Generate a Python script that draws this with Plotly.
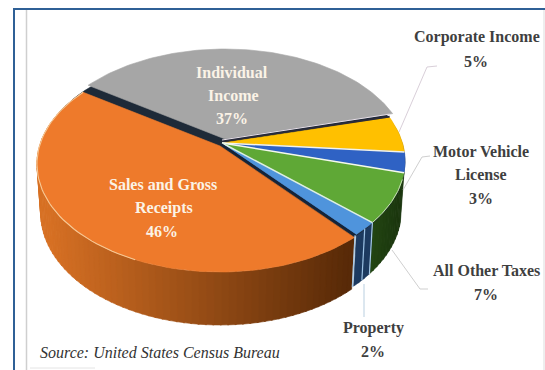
import math
import plotly.graph_objects as go

# ---- data (slice sizes as drawn; they round to the printed labels) ----
categories = ["Individual Income", "Corporate Income", "Motor Vehicle License",
              "All Other Taxes", "Property", "Sales and Gross Receipts"]
values = [36.5, 5.4, 3.0, 7.4, 2.0, 45.7]
top_colors = ["#a6a6a6", "#ffc000", "#2f62c4", "#5fa836", "#4f94dc", "#ee7a2b"]

# ---- projection of the tilted disc ----
CX, CY, A, B, K = 222.0, 143.0, 180.5, 105.0, 0.1667
START = 146.0
OFFSET = [(3, -4), (0, 0), (0, 0), (0, 0), (0, 0), (-2, 3)]


def top_pt(deg, off=(0, 0), r=1.0):
    t = math.radians(deg)
    u, v = r * math.cos(t), r * math.sin(t)
    w = 1 + K * v
    return CX + A * u / w + off[0], CY - B * v / w + off[1]


def low_pt(deg, off=(0, 0)):
    x, y = top_pt(deg, off)
    v = math.sin(math.radians(deg))
    return CX + (x - CX) * 0.98, y + 48 - 5 * v


def mix(c1, c2, f):
    f = max(0, min(1, f))
    return "rgb(%d,%d,%d)" % tuple(c1[i] + (c2[i] - c1[i]) * f for i in range(3))


def poly(xs, ys, fill, line=None, width=0):
    return go.Scatter(x=xs + xs[:1], y=ys + ys[:1], mode="lines", fill="toself",
                      fillcolor=fill, hoverinfo="skip", showlegend=False,
                      line=dict(color=line or fill, width=width if line else 0.6))


def seg(p, q, color, width):
    return go.Scatter(x=[p[0], q[0]], y=[p[1], q[1]], mode="lines", hoverinfo="skip",
                      showlegend=False, line=dict(color=color, width=width))


def wall_color(i, x):
    if i == 5:  # sales: bright on the left to dark brown on the right
        return mix((214, 112, 36), (88, 42, 8), (x - 50) / 300)
    if i == 4:
        return "#1d3a60"
    if i == 3:
        return mix((34, 68, 18), (26, 52, 14), (x - 375) / 30)
    return "#333333"


total = sum(values)
spans = []
ang = START
for v in values:
    sweep = v / total * 360
    spans.append((ang, ang - sweep))
    ang -= sweep

traces = []
# side walls, visible only on the near half
for i, (a0, a1) in enumerate(spans):
    if i not in (3, 4, 5):
        continue
    off = OFFSET[i]
    n = max(2, int(abs(a1 - a0) / 2))
    for j in range(n):
        d0 = a0 + (a1 - a0) * j / n
        d1 = a0 + (a1 - a0) * (j + 1) / n + (0.4 if j < n - 1 else 0) * (-1)
        p0, p1 = top_pt(d0, off), top_pt(d1, off)
        q0, q1 = low_pt(d0, off), low_pt(d1, off)
        traces.append(poly([p0[0], p1[0], q1[0], q0[0]], [p0[1], p1[1], q1[1], q0[1]],
                           wall_color(i, (p0[0] + p1[0]) / 2)))

# dark underlay showing through the gaps between slices
rim = [top_pt(START - k * 2) for k in range(180)]
traces.append(poly([p[0] for p in rim], [p[1] + 1 for p in rim], "#1e2a38"))

# top faces
for i, (a0, a1) in enumerate(spans):
    off = OFFSET[i]
    n = max(4, int(abs(a1 - a0) / 1.5))
    pts = [top_pt(a0 + (a1 - a0) * j / n, off) for j in range(n + 1)]
    apex = top_pt(0, off, 0)
    traces.append(poly([apex[0]] + [p[0] for p in pts], [apex[1]] + [p[1] for p in pts], top_colors[i]))

# separators between the slices
centre = top_pt(0, (0, 0), 0)
traces.append(seg((centre[0], centre[1] - 1.5), top_pt(spans[1][0], (0, -1)), "#2b2b3a", 1.6))
traces.append(seg((centre[0], centre[1] - 3), top_pt(spans[1][0], (0, -3.5)), "#e8dfe8", 1))
traces.append(seg(centre, top_pt(spans[2][0]), "#f4f4ea", 1.5))
traces.append(seg(centre, top_pt(spans[3][0]), "#f4f8f0", 1.5))
traces.append(seg(centre, top_pt(spans[4][0]), "#dff0e0", 1.5))
traces.append(seg((centre[0] - 1, centre[1] + 1), top_pt(spans[5][0], (-1, 1)), "#14233a", 2))

# pale rim of the sales slice, and of the property and other-taxes walls
a0, a1 = spans[5]
rim_pts = [top_pt(a0 + (a1 - a0) * j / 90, OFFSET[5]) for j in range(91)]
traces.append(go.Scatter(x=[p[0] for p in rim_pts[35:]], y=[p[1] for p in rim_pts[35:]], mode="lines",
                         hoverinfo="skip", showlegend=False, line=dict(color="#f6c996", width=1.1)))
a0, a1 = spans[3]
rim_pts = [top_pt(a0 + (a1 - a0) * j / 30) for j in range(31)]
traces.append(go.Scatter(x=[p[0] for p in rim_pts[4:]], y=[p[1] for p in rim_pts[4:]], mode="lines",
                         hoverinfo="skip", showlegend=False, line=dict(color="#c6e2b0", width=1)))
for d in (spans[4][0], spans[4][1] - 0.5):
    traces.append(seg(top_pt(d), low_pt(d), "#a6c8e6", 1.2))
mid = (spans[4][0] + spans[4][1]) / 2
traces.append(seg(top_pt(mid), low_pt(mid), "#9cc2e4", 1.2))

fig = go.Figure(traces)

serif = "Liberation Serif"
DARK, LIGHT = "#3f3f3f", "#fbf3e6"
labels = [
    ("Individual", 232, 72, LIGHT), ("Income", 233, 95, LIGHT), ("37%", 232, 118, LIGHT),
    ("Sales and Gross", 163, 184, LIGHT), ("Receipts", 164, 208, LIGHT), ("46%", 162, 231, LIGHT),
    ("Corporate Income", 477, 37, DARK), ("5%", 476, 61, DARK),
    ("Motor Vehicle", 481, 151, DARK), ("License", 481, 174, DARK), ("3%", 481, 198, DARK),
    ("All Other Taxes", 486, 270, DARK), ("7%", 486, 294, DARK),
    ("Property", 373, 328, DARK), ("2%", 373, 351, DARK),
]
ann = [dict(x=x, y=y, text="<b>%s</b>" % t, showarrow=False, xanchor="center", yanchor="middle",
            font=dict(family=serif, size=16, color=c)) for t, x, y, c in labels]
ann.append(dict(x=38, y=352, text="<i>Source: United States Census Bureau</i>", showarrow=False,
                xanchor="left", yanchor="middle", font=dict(family=serif, size=16, color="#333333")))

shapes = []
def line(x0, y0, x1, y1, color, width):
    shapes.append(dict(type="line", x0=x0, y0=y0, x1=x1, y1=y1, xref="x", yref="y",
                       line=dict(color=color, width=width)))

line(13, 9, 545, 9, "#2f6096", 2)
line(14, 9, 14, 370, "#2f6096", 2)
line(26.5, 10, 26.5, 370, "#cfcfcf", 1.5)
line(544, 10, 544, 370, "#dddddd", 1)
line(30, 368, 95, 368, "#e4e4e4", 1)
for pts, c in [
    ([(399, 132), (427, 67), (437, 66)], "#d9cfd9"),
    ([(403, 190), (422, 157), (430, 156)], "#cfcfcf"),
    ([(392, 250), (420, 289), (428, 289)], "#cfcfcf"),
    ([(364, 284), (364, 317)], "#b9cfe0"),
]:
    for p, q in zip(pts, pts[1:]):
        line(p[0], p[1], q[0], q[1], c, 1)

fig.update_layout(
    width=545, height=370, margin=dict(l=0, r=0, t=0, b=0), autosize=False,
    paper_bgcolor="white", plot_bgcolor="white", showlegend=False,
    xaxis=dict(range=[0, 545], visible=False, fixedrange=True),
    yaxis=dict(range=[370, 0], visible=False, fixedrange=True),
    annotations=ann, shapes=shapes,
)
fig.write_html("out.html", config=dict(displayModeBar=False),
               post_script="document.body.style.margin='0';document.documentElement.style.overflow='hidden';")
